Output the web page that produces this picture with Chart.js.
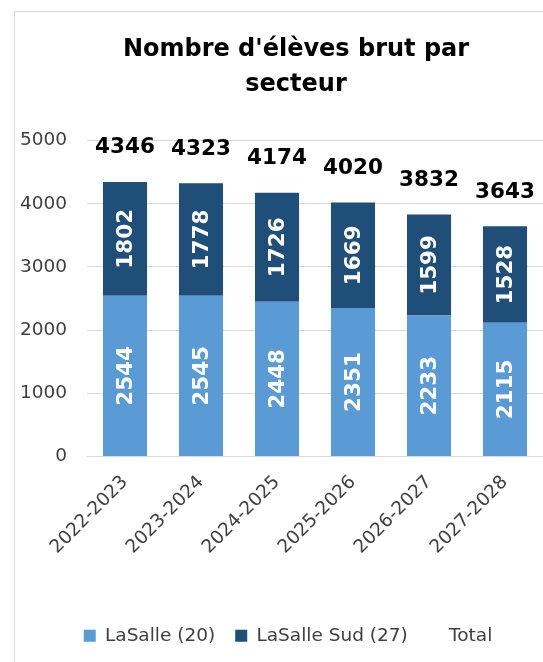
<!DOCTYPE html>
<html lang="fr">
<head>
<meta charset="utf-8">
<title>Nombre d'élèves brut par secteur</title>
<script src="https://cdn.jsdelivr.net/npm/chart.js@4.4.1/dist/chart.umd.min.js"></script>
<style>
  html, body { margin: 0; padding: 0; background: #fff; overflow: hidden; }
  #cadre { position: absolute; left: 14px; top: 11px; width: 600px; height: 700px; border: 1px solid #d9d9d9; }
  #graph { display: block; }
</style>
</head>
<body>
<div id="cadre"><canvas id="graph" width="562" height="651"></canvas></div>
<script>
// ======================
// Données
// ======================
const annees = ["2022-2023", "2023-2024", "2024-2025", "2025-2026", "2026-2027", "2027-2028"];
const lasalle = [2544, 2545, 2448, 2351, 2233, 2115];      // LaSalle (20)
const lasalleSud = [1802, 1778, 1726, 1669, 1599, 1528];   // LaSalle Sud (27)
const totaux = [4346, 4323, 4174, 4020, 3832, 3643];       // Total
const ticksY = [0, 1000, 2000, 3000, 4000, 5000];

const POLICE = "'DejaVu Sans', sans-serif";
const GRIS = "#404040";

// ======================
// Étiquettes (dans les barres + total au-dessus)
// ======================
const etiquettes = {
  id: "etiquettes",
  afterLayout(chart) {
    // légende un peu décalée vers la gauche, comme dans Excel
    chart.legend.left -= 8;
    chart.legend.right -= 8;
  },
  afterDatasetsDraw(chart) {
    const ctx = chart.ctx;
    chart.data.datasets.forEach((ds, i) => {
      const meta = chart.getDatasetMeta(i);
      meta.data.forEach((el, j) => {
        const v = ds.data[j];
        ctx.save();
        ctx.textAlign = "center";
        ctx.textBaseline = "middle";
        ctx.font = "bold 21.5px " + POLICE;
        if (ds.type === "line") {
          ctx.fillStyle = "#000";
          ctx.fillText(v, el.x, el.y - 34);
        } else {
          ctx.fillStyle = "#fff";
          ctx.translate(el.x, (el.y + el.base) / 2);
          ctx.rotate(-Math.PI / 2);
          ctx.fillText(v, 0, 1);
        }
        ctx.restore();
      });
    });
  }
};

new Chart(document.getElementById("graph"), {
  data: {
    labels: annees,
    datasets: [
      { type: "bar", label: "LaSalle (20)", data: lasalle, backgroundColor: "#5b9bd5",
        borderWidth: 0, stack: "s", barPercentage: 0.58, categoryPercentage: 1 },
      { type: "bar", label: "LaSalle Sud (27)", data: lasalleSud, backgroundColor: "#1f4e79",
        borderWidth: 0, stack: "s", barPercentage: 0.58, categoryPercentage: 1 },
      { type: "line", label: "Total", data: totaux, stack: "total", showLine: false,
        pointRadius: 0, pointHoverRadius: 0, borderColor: "rgba(0,0,0,0)",
        backgroundColor: "rgba(0,0,0,0)", borderWidth: 0 }
    ]
  },
  options: {
    responsive: false,
    animation: false,
    events: [],
    layout: { padding: { bottom: 8 } },
    plugins: {
      title: {
        display: true,
        text: ["Nombre d'élèves brut par", "secteur"],
        color: "#000",
        font: { family: POLICE, size: 24, weight: "bold", lineHeight: 1.46 },
        padding: { top: 20.5, bottom: 38 }
      },
      legend: {
        position: "bottom",
        labels: {
          boxWidth: 12, boxHeight: 12, padding: 20, color: GRIS,
          font: { family: POLICE, size: 18.5 }
        }
      },
      tooltip: { enabled: false }
    },
    scales: {
      x: {
        stacked: true,
        grid: { display: false },
        border: { color: "#d9d9d9" },
        ticks: { color: GRIS, font: { family: POLICE, size: 18.5 }, maxRotation: 45, minRotation: 45, padding: 7 },
        afterFit(s) { s.height = 150; }
      },
      y: {
        stacked: true,
        min: 0, max: 5000,
        afterBuildTicks(s) { s.ticks = ticksY.map(v => ({ value: v })); },
        grid: { color: "#d9d9d9", drawTicks: false },
        border: { display: false },
        ticks: { color: GRIS, font: { family: POLICE, size: 18.5 }, padding: 20, callback: v => String(v) },
        afterFit(s) { s.width = 72; }
      },
      y2: {
        position: "right",
        grid: { display: false, drawTicks: false },
        border: { display: false },
        ticks: { display: false },
        afterFit(s) { s.width = 34; }
      }
    }
  },
  plugins: [etiquettes]
});
</script>
</body>
</html>
